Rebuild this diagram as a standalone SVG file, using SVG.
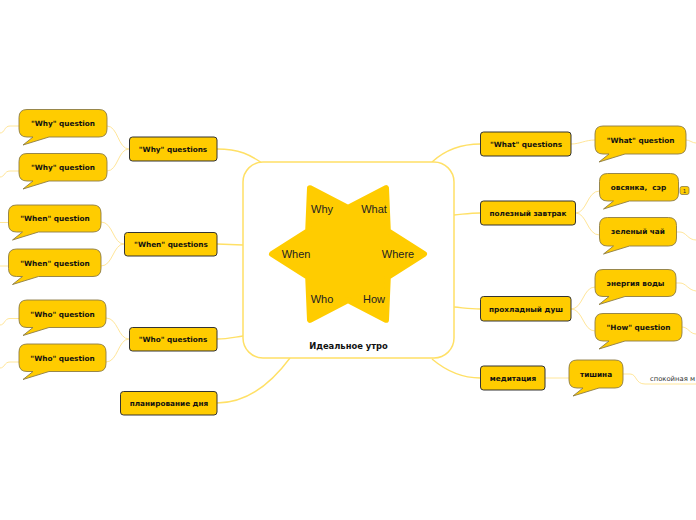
<svg xmlns="http://www.w3.org/2000/svg" width="696" height="520" viewBox="0 0 696 520">
<style>
.main{fill:none;stroke:#FFE066;stroke-width:1.4}
.sub{fill:none;stroke:#FFE699;stroke-width:1}
.node{fill:#FFCC00;stroke:#333;stroke-width:1}
.call{fill:#FFCC00;stroke:#8C7C45;stroke-width:0.9}
.lbl{font-family:"DejaVu Sans",sans-serif;font-weight:bold;font-size:7.3px;fill:#111;text-anchor:middle}
.star{font-family:"Liberation Sans",Arial,sans-serif;font-size:11px;fill:#222;text-anchor:middle}
</style>
<rect width="696" height="520" fill="#fff"/>
<g id="connectors">
<path class="main" d="M217,149 C240,149 250,155 262,163"/>
<path class="main" d="M217,244 L243,245"/>
<path class="main" d="M217,339 C228,339 235,337 243,336"/>
<path class="main" d="M217,403 C245,403 270,385 290,358"/>
<path class="main" d="M480.5,144 C460,144 445,150 432,162"/>
<path class="main" d="M454,215 C465,214 470,213 480.5,213"/>
<path class="main" d="M454,307 C465,308 470,309 480.5,309"/>
<path class="main" d="M432,359 C445,370 460,378 480.5,378"/>
<path class="sub" d="M129,149 C118,149 118,126 107,126 M129,149 C118,149 118,171 107,171"/>
<path class="sub" d="M124,244 C113,244 113,222 101,222 M124,244 C113,244 113,266 101,266"/>
<path class="sub" d="M129,339 C118,339 118,318 106,318 M129,339 C118,339 118,362 106,362"/>
<path class="sub" d="M571,144 C580,144 585,140 595,140"/>
<path class="sub" d="M575.5,213 C587,213 587,191 599.5,191 M575.5,213 C587,213 587,235 599.5,235"/>
<path class="sub" d="M571,309 C583,309 583,287 595,287 M571,309 C583,309 583,331 595,331"/>
<path class="sub" d="M545,378 H569"/>
<path class="sub" d="M623,374 H630 C637,374 635,384 645,384 H696"/>
<path class="sub" d="M19,126 H10 C4,126 5,133 0,133 M19,171 H10 C4,171 5,177 0,177 M8.5,222.5 H0 M8.5,266 H0 M19,318.5 H10 C4,318.5 5,325 0,325 M19,362 H10 C4,362 5,368 0,368"/>
<path class="sub" d="M686,140 C690,140 692,143 696,143 M676.5,232 H680 C686,232 688,240 696,240 M676,283 H680 C686,283 688,290 696,291 M682,327 C688,327 690,334 696,334"/>
</g>
<g id="center">
<rect x="243" y="162" width="211" height="196" rx="20" fill="#fff" stroke="#FFE066" stroke-width="1.5"/>
<path d="M424,254 L387.8,277 L386,319.8 L348,300 L310,319.8 L308.2,277 L272,254 L308.2,231 L310,188.2 L348,208 L386,188.2 L387.8,231 Z" fill="#FFCC00" stroke="#FFCC00" stroke-width="6" stroke-linejoin="round"/>
<text class="star" x="322" y="213">Why</text>
<text class="star" x="374" y="213">What</text>
<text class="star" x="296" y="258">When</text>
<text class="star" x="398" y="258">Where</text>
<text class="star" x="322" y="303">Who</text>
<text class="star" x="374" y="303">How</text>
<text class="lbl" x="348.5" y="349" style="font-size:8.4px">Идеальное утро</text>
</g>
<g id="why-questions"><rect class="node" x="129.5" y="137" width="87.5" height="24" rx="3"/><text class="lbl" x="173" y="151.7">"Why" questions</text></g>
<g id="when-questions"><rect class="node" x="124.5" y="232.5" width="92.5" height="23.5" rx="3"/><text class="lbl" x="171" y="247">"When" questions</text></g>
<g id="who-questions"><rect class="node" x="129.5" y="327.5" width="87.5" height="23.5" rx="3"/><text class="lbl" x="173" y="342">"Who" questions</text></g>
<g id="planning"><rect class="node" x="120.5" y="391.5" width="96.5" height="23.5" rx="3"/><text class="lbl" x="169" y="406">планирование дня</text></g>
<g id="what-questions"><rect class="node" x="480.5" y="132" width="90.5" height="24" rx="3"/><text class="lbl" x="526" y="146.7">"What" questions</text></g>
<g id="breakfast"><rect class="node" x="480.5" y="201" width="95" height="24" rx="3"/><text class="lbl" x="528" y="215.7">полезный завтрак</text></g>
<g id="shower"><rect class="node" x="480.5" y="296.5" width="90.5" height="24.5" rx="3"/><text class="lbl" x="526" y="311.5">прохладный душ</text></g>
<g id="meditation"><rect class="node" x="480.5" y="366" width="64.5" height="24" rx="3"/><text class="lbl" x="513" y="380.7">медитация</text></g>
<g id="why-q1"><path class="call" d="M27,109.5 H99 Q107,109.5 107,117.5 V129 Q107,137 99,137 H49 L23,145 L33,137 H27 Q19,137 19,129 V117.5 Q19,109.5 27,109.5 Z"/><text class="lbl" x="63" y="125.7">"Why" question</text></g>
<g id="why-q2"><path class="call" d="M27,153.5 H99 Q107,153.5 107,161.5 V173 Q107,181 99,181 H49 L23,189 L33,181 H27 Q19,181 19,173 V161.5 Q19,153.5 27,153.5 Z"/><text class="lbl" x="63" y="169.7">"Why" question</text></g>
<g id="when-q1"><path class="call" d="M16.5,205 H93 Q101,205 101,213 V224 Q101,232 93,232 H38.5 L12.5,240 L22.5,232 H16.5 Q8.5,232 8.5,224 V213 Q8.5,205 16.5,205 Z"/><text class="lbl" x="55" y="221.2">"When" question</text></g>
<g id="when-q2"><path class="call" d="M16.5,249 H93 Q101,249 101,257 V268.5 Q101,276.5 93,276.5 H38.5 L12.5,284.5 L22.5,276.5 H16.5 Q8.5,276.5 8.5,268.5 V257 Q8.5,249 16.5,249 Z"/><text class="lbl" x="55" y="265.5">"When" question</text></g>
<g id="who-q1"><path class="call" d="M27,300 H98 Q106,300 106,308 V319.5 Q106,327.5 98,327.5 H49 L23,335.5 L33,327.5 H27 Q19,327.5 19,319.5 V308 Q19,300 27,300 Z"/><text class="lbl" x="62.5" y="316.7">"Who" question</text></g>
<g id="who-q2"><path class="call" d="M27,344 H98 Q106,344 106,352 V363.5 Q106,371.5 98,371.5 H49 L23,379.5 L33,371.5 H27 Q19,371.5 19,363.5 V352 Q19,344 27,344 Z"/><text class="lbl" x="62.5" y="360.7">"Who" question</text></g>
<g id="what-q"><path class="call" d="M603,126 H678 Q686,126 686,134 V146 Q686,154 678,154 H625 L599,162 L609,154 H603 Q595,154 595,146 V134 Q595,126 603,126 Z"/><text class="lbl" x="640.5" y="142.7">"What" question</text></g>
<g id="oatmeal"><path class="call" d="M607.5,173.5 H670.5 Q678.5,173.5 678.5,181.5 V193 Q678.5,201 670.5,201 H629.5 L603.5,209 L613.5,201 H607.5 Q599.5,201 599.5,193 V181.5 Q599.5,173.5 607.5,173.5 Z"/><text class="lbl" x="638.5" y="190" xml:space="preserve">овсянка,  сэр</text><rect x="680" y="186.5" width="9" height="8" rx="2" fill="#FFCC00" stroke="#8C7C45" stroke-width="0.8"/><text x="684.5" y="192.6" font-family="DejaVu Sans,sans-serif" font-size="5.5" fill="#333" text-anchor="middle">1</text></g>
<g id="green-tea"><path class="call" d="M607.5,217.5 H668.5 Q676.5,217.5 676.5,225.5 V238 Q676.5,246 668.5,246 H629.5 L603.5,254 L613.5,246 H607.5 Q599.5,246 599.5,238 V225.5 Q599.5,217.5 607.5,217.5 Z"/><text class="lbl" x="638" y="234">зеленый чай</text></g>
<g id="water"><path class="call" d="M603,269.5 H668 Q676,269.5 676,277.5 V288.5 Q676,296.5 668,296.5 H625 L599,304.5 L609,296.5 H603 Q595,296.5 595,288.5 V277.5 Q595,269.5 603,269.5 Z"/><text class="lbl" x="635.5" y="285.7">энергия воды</text></g>
<g id="how-q"><path class="call" d="M603,313.5 H674 Q682,313.5 682,321.5 V333 Q682,341 674,341 H625 L599,349 L609,341 H603 Q595,341 595,333 V321.5 Q595,313.5 603,313.5 Z"/><text class="lbl" x="638.5" y="329.7">"How" question</text></g>
<g id="silence"><path class="call" d="M577,360 H615 Q623,360 623,368 V380 Q623,388 615,388 H599 L573,396 L583,388 H577 Q569,388 569,380 V368 Q569,360 577,360 Z"/><text class="lbl" x="596" y="376.7">тишина</text></g>
<g id="music"><text x="650" y="380.5" font-family="DejaVu Sans,sans-serif" font-size="6.8" fill="#333">спокойная м</text></g>
</svg>
